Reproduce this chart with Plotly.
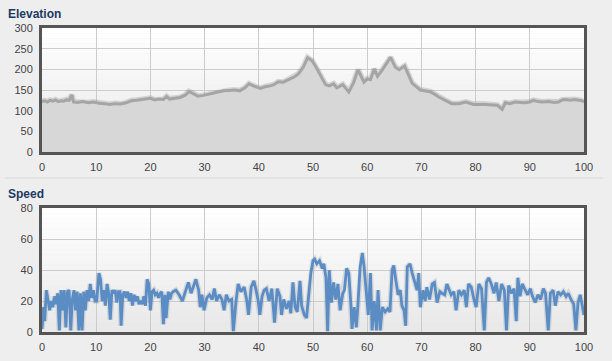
import plotly.graph_objects as go
from plotly.subplots import make_subplots

# ---------------- data ----------------
elev_x = [0, 0.5, 1, 1.5, 2, 2.5, 3, 3.5, 4, 4.5, 5, 5.5, 5.8, 6.5, 7.5, 8.5, 9.5, 10.5,
          11.5, 12.5, 13.5, 14.5, 15.5, 16.5, 17.5, 18.5, 19.5, 20, 20.8, 21.5, 22.4, 23,
          23.5, 24.5, 25.5, 26.5, 27.1, 27.8, 28.8, 29.8, 30.5, 31.5, 32.5, 33.5, 34.5,
          35.5, 36.5, 37.5, 38.2, 39, 40.3, 41.2, 42.1, 42.8, 43.6, 44.5, 45.3, 45.8, 46.6,
          47.3, 48.2, 49, 49.8, 50.4, 51.3, 52.3, 53, 53.8, 54.4, 55.5, 56.6, 57.5, 58.3,
          59, 59.4, 60, 60.6, 61.3, 61.9, 62.7, 63.5, 64.3, 65.2, 65.9, 66.9, 67.7, 68.3,
          69.8, 70.8, 71.6, 72.4, 73.2, 74.4, 75.6, 76.9, 78.2, 79.6, 81, 81.8, 83, 84,
          84.9, 85.5, 86.3, 87.3, 88.2, 89.2, 90, 90.7, 91.5, 92.3, 93.5, 94.5, 95.3, 96,
          96.6, 97.5, 98.2, 99, 99.6, 100]
elev_y = [122, 124, 121, 125, 123, 126, 122, 124, 123, 126, 125, 138, 121, 120, 122, 119,
          121, 118, 117, 115, 117, 116, 119, 124, 125, 127, 128, 130, 126, 128, 127, 134,
          128, 130, 132, 138, 146, 142, 135, 137, 139, 143, 145, 148, 149, 150, 148, 156,
          165, 160, 154, 158, 160, 163, 170, 169, 174, 177, 182, 189, 205, 228, 221, 209,
          187, 163, 160, 165, 155, 163, 145, 168, 199, 180, 169, 177, 175, 201, 183, 197,
          212, 229, 205, 199, 208, 186, 166, 150, 148, 146, 140, 133, 125, 117, 117, 121,
          115, 116, 115, 114, 113, 103, 119, 117, 121, 120, 119, 121, 125, 122, 121, 122,
          120, 121, 126, 127, 125, 127, 126, 124, 121]

speed_x = [0, 0.3, 0.5, 0.8, 1.1, 1.4, 1.7, 2.0, 2.3, 2.6, 2.9, 3.2, 3.5, 3.8, 4.1, 4.4,
           4.7, 5.0, 5.3, 5.6, 5.9, 6.2, 6.5, 6.8, 7.1, 7.4, 7.7, 8.0, 8.3, 8.6, 8.9, 9.2,
           9.5, 9.8, 10.1, 10.5, 10.8, 11.1, 11.4, 11.7, 12.0, 12.3, 12.6, 12.9, 13.2, 13.5,
           13.8, 14.1, 14.4, 14.6, 14.9, 15.2, 15.5, 15.8, 16.1, 16.4, 16.7, 17.0, 17.3,
           17.6, 17.9, 18.2, 18.5, 18.8, 19.1, 19.4, 19.7, 20.0, 20.3, 20.6, 20.9, 21.2,
           21.5, 21.8, 22.1, 22.4, 22.7, 22.9, 23.3, 23.6, 23.9, 24.2,
           24.7, 25.3, 25.9, 26.5, 27.0, 27.5, 27.9, 28.4, 28.9, 29.2, 29.5, 29.9, 30.4,
           30.9, 31.4, 31.8, 32.2, 32.7, 33.2, 33.6, 34.0, 34.5, 35.0, 35.3, 35.8, 36.2,
           36.7, 37.3, 37.8, 38.1, 38.6, 39.1, 39.5, 39.9, 40.2, 40.6, 41.0, 41.4, 41.9,
           42.4, 42.9, 43.4, 43.9, 44.2, 44.6, 45.1, 45.6, 45.9, 46.3, 46.7, 47.1, 47.6,
           47.9, 48.4, 48.8, 49.2, 49.6, 50.0,
           50.3, 50.7, 51.2, 51.7, 52.0, 52.4, 52.7, 53.0, 53.4, 53.8, 54.2, 54.6, 55.0,
           55.5, 55.8, 56.2, 56.6, 57.0, 57.2, 57.6, 58.0, 58.3, 58.7, 59.1, 59.4, 59.8,
           60.2, 60.6, 60.9, 61.3, 61.7, 62.0, 62.4, 62.8, 63.3, 63.8, 64.2, 64.6, 64.9,
           65.3, 65.7, 66.1, 66.4, 66.8, 67.1, 67.4, 67.9, 68.3, 68.7, 69.2, 69.5, 69.8,
           70.3, 70.7, 71.0, 71.5, 72.0, 72.4, 72.9, 73.4, 73.8, 74.3, 74.7,
           75.2, 75.5, 76.0, 76.4, 76.9, 77.4, 77.9, 78.3, 78.7, 79.2, 79.7, 80.1, 80.6,
           81.1, 81.6, 82.0, 82.4, 82.9, 83.4, 83.8, 84.3, 84.8, 85.3, 85.7, 86.1, 86.6,
           87.1, 87.5, 87.8, 88.2, 88.6, 89.1, 89.6, 90.1, 90.5, 91.0, 91.5, 92.0, 92.5,
           92.9, 93.4, 93.8, 94.3, 94.7, 95.2, 95.7, 96.2, 96.7, 97.1, 97.6, 98.1, 98.5,
           98.9, 99.3, 99.7, 100]
speed_y = [2, 16, 7, 27, 21, 14, 20, 16, 23, 18, 25, 1, 27, 14, 27, 3,
           26, 27, 1, 21, 27, 14, 26, 1, 25, 1, 26, 14, 27, 20, 31, 22,
           27, 20, 20, 38, 34, 20, 27, 17, 31, 25, 8, 27, 25, 27,
           19, 26, 26, 4, 24, 26, 22, 26, 20, 25, 17, 24, 20,
           23, 18, 20, 18, 23, 17, 34, 31, 14, 26, 27, 24, 25,
           22, 25, 26, 5, 24, 9, 26, 21, 25, 26,
           27, 24, 20, 27, 32, 25, 29, 34, 27, 16, 24, 14, 22,
           24, 21, 28, 20, 24, 21, 14, 24, 20, 21, 0.5, 20, 31,
           26, 29, 20, 11, 29, 33, 27, 20, 11, 23, 27, 28, 20,
           28, 6, 28, 23, 11, 21, 15, 20, 12, 32, 16, 13, 33,
           17, 11, 9, 23, 38, 46,
           47, 44, 46, 41, 44, 35, 0.5, 40, 19, 32, 21, 31, 14,
           25, 27, 41, 38, 17, 2, 16, 3, 18, 42, 51, 43, 27,
           11, 38, 1, 20, 1, 27, 1, 16, 13, 15, 13, 40, 43,
           33, 24, 27, 17, 14, 4, 42, 44, 38, 33, 27, 38, 16,
           27, 20, 29, 21, 31, 32, 19, 26, 25, 24, 31,
           27, 24, 26, 14, 27, 24, 27, 16, 31, 29, 21, 16, 31,
           28, 1, 32, 35, 31, 25, 32, 20, 31, 27, 1, 30, 25,
           28, 7, 35, 23, 31, 27, 24, 28, 23, 19, 24, 21, 28,
           25, 1, 25, 27, 17, 26, 24, 26, 23, 25, 21, 18, 1,
           19, 24, 17, 11]

x_ticks = [0, 10, 20, 30, 40, 50, 60, 70, 80, 90, 100]
elev_ticks = [0, 50, 100, 150, 200, 250, 300]
speed_ticks = [0, 20, 40, 60, 80]
titles = ["Elevation", "Speed"]

# ---------------- figure ----------------
fig = make_subplots(rows=2, cols=1, vertical_spacing=0.184)

fig.add_trace(go.Scatter(x=elev_x, y=elev_y, mode="lines",
                         line=dict(color="rgba(120,120,120,0.25)", width=6),
                         hoverinfo="skip", showlegend=False), row=1, col=1)
fig.add_trace(go.Scatter(x=elev_x, y=elev_y, mode="lines", fill="tozeroy",
                         fillcolor="#d7d7d7",
                         line=dict(color="#a5a5a5", width=3),
                         showlegend=False), row=1, col=1)

fig.add_trace(go.Scatter(x=speed_x, y=speed_y, mode="lines",
                         line=dict(color="rgba(90,110,140,0.18)", width=5.5),
                         hoverinfo="skip", showlegend=False), row=2, col=1)
fig.add_trace(go.Scatter(x=speed_x, y=speed_y, mode="lines",
                         line=dict(color="#5b8dc4", width=2.8),
                         showlegend=False), row=2, col=1)

axis_common = dict(showgrid=True, gridcolor="#cccccc", gridwidth=1, automargin=False,
                   showline=True, linecolor="#555555", linewidth=3, mirror=True,
                   zeroline=False, ticks="", tickfont=dict(family="Liberation Sans, Arial",
                                                           size=11, color="#444444"))

for r in (1, 2):
    fig.update_xaxes(range=[0, 100], tickvals=x_ticks, ticklabelstandoff=3,
                     **axis_common, row=r, col=1)
fig.update_yaxes(range=[0, 300], tickvals=elev_ticks, ticklabelstandoff=4,
                 **axis_common, row=1, col=1)
fig.update_yaxes(range=[0, 80], tickvals=speed_ticks, ticklabelstandoff=4,
                 **axis_common, row=2, col=1)

# gradient backgrounds
shapes = []
n = 24
for ax in ("", "2"):
    for i in range(n):
        t = i / (n - 1)
        c = int(255 - 22 * t)
        shapes.append(dict(type="rect", xref="x%s domain" % ax, yref="y%s domain" % ax,
                           x0=0, x1=1, y0=1 - (i + 1) / n, y1=1 - i / n,
                           fillcolor="rgb(%d,%d,%d)" % (c, c, c), line=dict(width=0),
                           layer="below"))
# separator line
shapes.append(dict(type="line", xref="paper", yref="paper", x0=-0.068, x1=1.035,
                   y0=(332 - 178) / 304, y1=(332 - 178) / 304,
                   line=dict(color="#d8d8d8", width=1)))

annotations = [
    dict(text="<b>%s</b>" % titles[0], xref="paper", yref="paper", x=-0.066, y=(332 - 14) / 304,
         xanchor="left", yanchor="middle", showarrow=False,
         font=dict(family="Liberation Sans, Arial", size=12, color="#1c3a63")),
    dict(text="<b>%s</b>" % titles[1], xref="paper", yref="paper", x=-0.066, y=(332 - 194) / 304,
         xanchor="left", yanchor="middle", showarrow=False,
         font=dict(family="Liberation Sans, Arial", size=12, color="#1c3a63")),
]

fig.update_layout(width=612, height=361,
                  margin=dict(l=42, r=28, t=28, b=29),
                  paper_bgcolor="#eeeeee", plot_bgcolor="rgba(0,0,0,0)",
                  shapes=shapes, annotations=annotations, showlegend=False,
                  hovermode=False)
fig.update_yaxes(domain=[(332 - 152) / 304, 1], row=1, col=1)
fig.update_yaxes(domain=[0, (332 - 208) / 304], row=2, col=1)

fig.write_html("out.html", config={"displayModeBar": False, "staticPlot": True},
               post_script="document.body.style.margin='0';document.body.style.padding='0';"
                           "document.body.style.background='#eeeeee';")
